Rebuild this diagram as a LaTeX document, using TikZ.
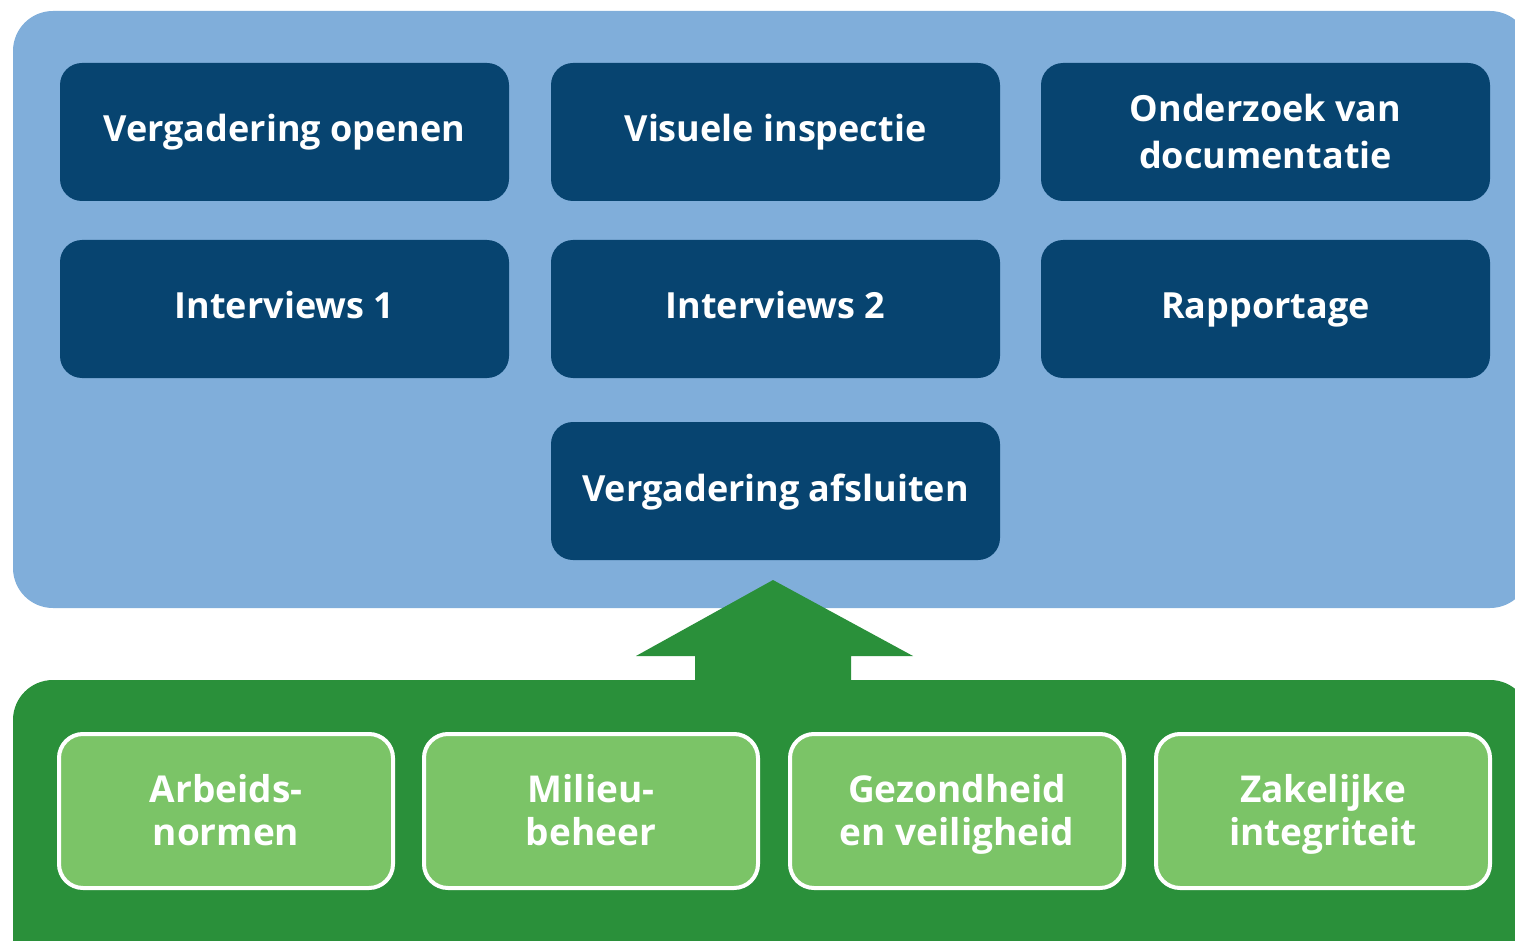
\documentclass[tikz,border=0pt]{standalone}
\usepackage{fontspec}
\setmainfont{Open Sans}
\definecolor{bgblue}{HTML}{80AEDA}
\definecolor{darkblue}{HTML}{074470}
\definecolor{dgreen}{HTML}{2A903A}
\definecolor{lgreen}{HTML}{7BC467}
\begin{document}
\begin{tikzpicture}[x=1pt,y=-1pt,
  topbox/.style={fill=darkblue, rounded corners=22pt, minimum width=449pt, minimum height=138pt, inner sep=0pt, text=white, font=\fontsize{36}{47}\selectfont\bfseries, align=center, text height=27pt, text depth=7pt},
  botbox/.style={fill=lgreen, draw=white, line width=4pt, rounded corners=24pt, minimum width=334pt, minimum height=154pt, inner sep=0pt, text=white, font=\fontsize{37}{43}\selectfont\bfseries, align=center, text height=70pt, text depth=2pt}]
\useasboundingbox (0,0) rectangle (1515,941);
\begin{scope}
\clip (0,0) rectangle (1515,941);
\fill[bgblue, rounded corners=40pt] (13,11) rectangle (1530,608);
\fill[dgreen, rounded corners=40pt] (13,680) rectangle (1530,990);
\end{scope}
\node[topbox] (a) at (284.5,132) {Vergadering openen};
\node[topbox] (b) at (775.5,132) {Visuele inspectie};
\node[topbox, text height=74pt, text depth=0pt] (c) at (1265.5,132) {Onderzoek van\\documentatie};
\node[topbox] (d) at (284.5,309) {Interviews 1};
\node[topbox] (e) at (775.5,309) {Interviews 2};
\node[topbox] (f) at (1265.5,309) {Rapportage};
\node[topbox] (g) at (775.5,491) {Vergadering afsluiten};
\coordinate (tip) at (773,580);
\fill[dgreen] (tip) -- (913,656) -- (851,656) -- (851,682) -- (695,682) -- (695,656) -- (636,656) -- cycle;
\node[botbox] (h) at (226,811) {Arbeids-\\normen};
\node[botbox] (i) at (591,811) {Milieu-\\beheer};
\node[botbox] (j) at (957,811) {Gezondheid\\en veiligheid};
\node[botbox] (k) at (1323,811) {Zakelijke\\integriteit};
\end{tikzpicture}
\end{document}
